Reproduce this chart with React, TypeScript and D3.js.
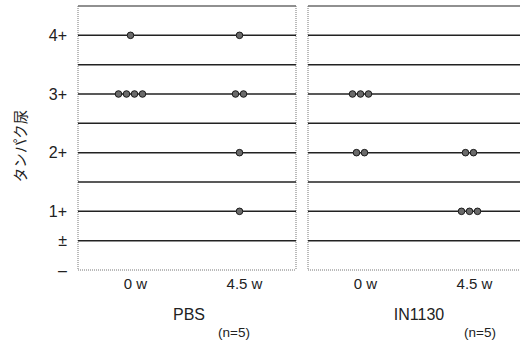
import React, { useEffect, useRef } from 'react'
import * as d3 from 'd3'

// grade codes: -1 = "-", 0 = "±", 1..4 = "1+".."4+"
const gradeTicks = [-1, 0, 1, 2, 3, 4]
const gradeLabels = ['–', '±', '1+', '2+', '3+', '4+']
const gridGrades = [0, 1, 1.5, 2, 2.5, 3, 3.5, 4]

const timepoints = ['0 w', '4.5 w']
const groups = ['PBS', 'IN1130']
const groupN = ['(n=5)', '(n=5)']

// one value per animal
const pbs0w = [4, 3, 3, 3, 3]
const pbs45w = [4, 3, 3, 2, 1]
const in0w = [3, 3, 3, 2, 2]
const in45w = [2, 2, 1, 1, 1]
const groupData = [
  [pbs0w, pbs45w],
  [in0w, in45w],
]

const App = () => {
  const ref = useRef<SVGSVGElement>(null)

  useEffect(() => {
    const svg = d3.select(ref.current)
    svg.selectAll('*').remove()

    const top = 6, bottom = 270
    const panelW = 218
    const panelX = [78, 308]
    const font = '"Liberation Sans", Arial, sans-serif'
    const ink = '#222'

    const unit = (bottom - top) / 9
    const y = d3.scaleLinear()
      .domain([-1, 0, 1, 4.5])
      .range([bottom, bottom - unit, bottom - 2 * unit, top])

    groups.forEach((g, gi) => {
      const x0 = panelX[gi]
      const x = d3.scalePoint()
        .domain(timepoints)
        .range([x0, x0 + panelW])
        .padding(0.5)

      const panel = svg.append('g')

      // frame: dotted sides/bottom, solid top
      panel.append('line')
        .attr('x1', x0).attr('x2', x0 + panelW)
        .attr('y1', top).attr('y2', top)
        .attr('stroke', ink).attr('stroke-width', 1.2)
      ;[x0, x0 + panelW].forEach(xx => {
        panel.append('line')
          .attr('x1', xx).attr('x2', xx)
          .attr('y1', top).attr('y2', bottom)
          .attr('stroke', '#777').attr('stroke-width', 1)
          .attr('stroke-dasharray', '1,1')
      })
      panel.append('line')
        .attr('x1', x0).attr('x2', x0 + panelW)
        .attr('y1', bottom).attr('y2', bottom)
        .attr('stroke', '#777').attr('stroke-width', 1)
        .attr('stroke-dasharray', '1,1')

      panel.selectAll('line.grid')
        .data(gridGrades)
        .enter().append('line')
        .attr('class', 'grid')
        .attr('x1', x0).attr('x2', x0 + panelW)
        .attr('y1', d => y(d)).attr('y2', d => y(d))
        .attr('stroke', ink).attr('stroke-width', 1.5)

      // dots, spread sideways when they share a grade
      const spacing = 8
      groupData[gi].forEach((vals, ti) => {
        const cx = x(timepoints[ti])! - 2
        const counts = d3.rollup(vals, v => v.length, d => d)
        const pts: { g: number; k: number; n: number }[] = []
        counts.forEach((n, gr) => {
          for (let k = 0; k < n; k++) pts.push({ g: gr, k, n })
        })
        panel.selectAll(null)
          .data(pts)
          .enter().append('circle')
          .attr('cx', d => cx + (d.k - (d.n - 1) / 2) * spacing)
          .attr('cy', d => y(d.g))
          .attr('r', 3.3)
          .attr('fill', '#6a6a6a')
          .attr('stroke', '#1a1a1a')
          .attr('stroke-width', 1)
      })

      panel.selectAll('text.tp')
        .data(timepoints)
        .enter().append('text')
        .attr('class', 'tp')
        .attr('x', d => x(d)! + 3)
        .attr('y', 289)
        .attr('text-anchor', 'middle')
        .style('font-family', font)
        .style('font-size', '15px')
        .attr('fill', ink)
        .text(d => d)

      panel.append('text')
        .attr('x', x0 + panelW / 2 + 2)
        .attr('y', 320)
        .attr('text-anchor', 'middle')
        .style('font-family', font)
        .style('font-size', '16px')
        .attr('fill', ink)
        .text(g)

      panel.append('text')
        .attr('x', x0 + panelW / 2 + (gi === 0 ? 47 : 63))
        .attr('y', 337)
        .attr('text-anchor', 'middle')
        .style('font-family', font)
        .style('font-size', '13.5px')
        .attr('fill', ink)
        .text(groupN[gi])
    })

    // y tick labels
    svg.selectAll('text.ytick')
      .data(gradeTicks)
      .enter().append('text')
      .attr('class', 'ytick')
      .attr('x', 67)
      .attr('y', d => y(d))
      .attr('dy', '0.36em')
      .attr('text-anchor', 'end')
      .style('font-family', font)
      .style('font-size', '16px')
      .attr('fill', ink)
      .text((d, i) => gradeLabels[i])

    svg.append('text')
      .attr('transform', `translate(26,146) rotate(-90)`)
      .attr('text-anchor', 'middle')
      .style('font-family', '"Noto Sans CJK JP", sans-serif')
      .style('font-size', '14.5px')
      .attr('fill', ink)
      .text('タンパク尿')
  }, [])

  return (
    <svg
      ref={ref}
      width={520}
      height={342}
      style={{ position: 'absolute', left: 0, top: 0, background: '#fff' }}
    />
  )
}

export default App
